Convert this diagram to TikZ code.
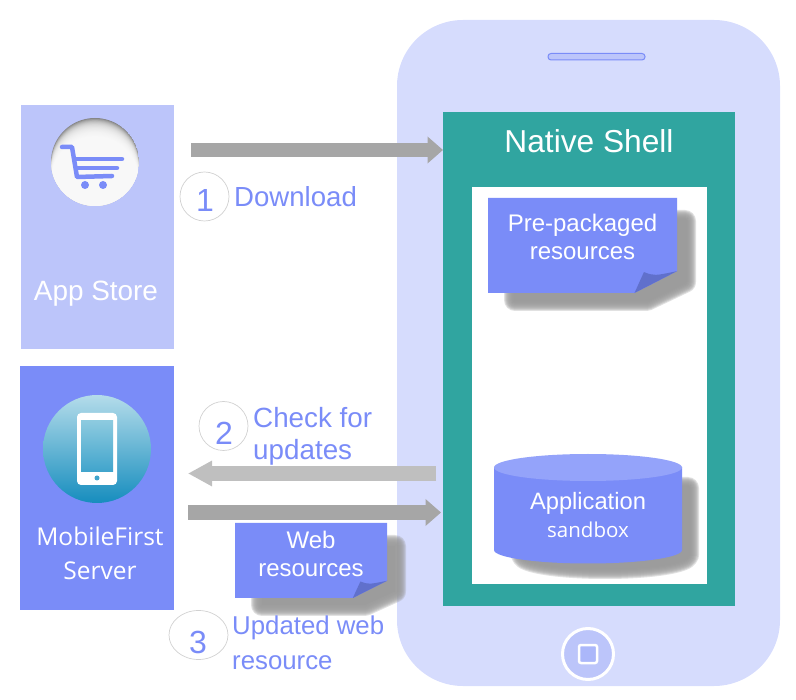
\documentclass[tikz,border=0pt]{standalone}
\usepackage{fontspec}
\setmainfont{Liberation Sans}
\newfontfamily\segoe{Open Sans}
\usetikzlibrary{arrows.meta}

\definecolor{phoneblue}{HTML}{D6DCFD}
\definecolor{paleblue}{HTML}{BCC5FA}
\definecolor{midblue}{HTML}{7A8CF8}
\definecolor{topblue}{HTML}{94A3FA}
\definecolor{foldblue}{HTML}{6070CC}
\definecolor{shellteal}{HTML}{30A5A0}
\definecolor{shadowgray}{HTML}{9C9C9C}
\definecolor{globetop}{HTML}{B4DCEA}
\definecolor{globebottom}{HTML}{168DBE}
\definecolor{screentop}{HTML}{8CCADF}
\definecolor{screenbottom}{HTML}{40A4CC}

\tikzset{
  panel/.style={anchor=north west,inner sep=0pt,outer sep=0pt},
  whitetext/.style={text=white,align=center,inner sep=0pt},
  bluetext/.style={text=midblue,align=left,anchor=west,inner sep=0pt},
  stepcircle/.style={draw=black!18,line width=0.7pt},
  stepnum/.style={text=midblue,inner sep=0pt,font=\fontsize{32}{32}\selectfont},
  blockarrow/.style={line width=14.5pt,-{Triangle[length=15.5pt,width=26pt]}},
  softedge/.style={draw=shadowgray,opacity=0.3,line join=round}
}

% grey blurred shape under the notes and the drum
\newcommand{\softshadow}[1]{
  \foreach \w in {22,20,...,2} {
    \draw[softedge,line width=\w pt] #1;
  }
  \fill[shadowgray] #1;
}

\newcommand{\stickynote}[6]{
  \begin{scope}[shift={(#1+27,#2+23)},xscale=#3-19,yscale=#4-16]
    \softshadow{(0,0) -- (1,0) -- (1,0.77) -- (0.775,1) -- (0,1) -- cycle}
  \end{scope}
  \begin{scope}[shift={(#1,#2)},xscale=#3,yscale=#4]
    \fill[midblue] (0,0) -- (1,0) -- (1,0.77) -- (0.775,1) -- (0,1) -- cycle;
    \fill[foldblue] (0.775,1) -- (0.825,0.78) .. controls (0.88,0.82) .. (1,0.77) -- cycle;
    \node[whitetext,font=\fontsize{24}{28}\selectfont] (#5) at (0.5,0.41) {#6};
  \end{scope}
}

\begin{document}
\begin{tikzpicture}[x=1pt,y=-1pt]
  \useasboundingbox (0,0) rectangle (796,700);

  % phone body
  \fill[phoneblue,rounded corners=66pt] (397,20) rectangle (780,686);
  \fill[paleblue,draw=midblue,line width=1pt,rounded corners=3pt] (548,53.5) rectangle (645,60);
  \node[circle,draw=white,line width=3pt,fill=paleblue,minimum size=51pt,inner sep=0pt] (homebutton) at (588,654) {};
  \node[draw=white,line width=2.5pt,fill=paleblue!75!midblue,minimum size=18pt,inner sep=0pt,rounded corners=2pt] (homesquare) at (588,654) {};

  % shell
  \node[panel,fill=shellteal,minimum width=292pt,minimum height=494pt] (shell) at (443,112) {};
  \node[panel,fill=white,minimum width=235pt,minimum height=397pt] (inner) at (472,187) {};
  \node[text=white,inner sep=0pt,font=\fontsize{31.7}{32}\selectfont] (shelltitle) at (589,141) {Native Shell};

  \stickynote{488}{198}{189}{95}{prenote}{Pre-packaged\\resources}

  % drum
  \softshadow{(522,488) -- (688,488) -- (688,555) arc [start angle=0,end angle=180,x radius=83,y radius=13] -- cycle}
  \fill[midblue] (494,467) -- (494,550) arc [start angle=180,end angle=0,x radius=94,y radius=13.5] -- (682,467) -- cycle;
  \fill[topblue] (588,467.5) ellipse [x radius=94,y radius=13.5];
  \node[whitetext,font=\fontsize{23.7}{24}\selectfont] (apptext) at (588,503) {Application};
  \node[whitetext,font=\segoe\fontsize{20.5}{21}\selectfont] (sandtext) at (588,530) {sandbox};

  % app store
  \node[panel,fill=paleblue,minimum width=153pt,minimum height=244pt] (store) at (21,105) {};
  \node[whitetext,font=\fontsize{27.9}{28}\selectfont] (storetext) at (96,294) {App Store};
  \begin{scope}
    \clip (95,162) circle [radius=44];
    \fill[black!50] (95,162) circle [radius=44];
    \foreach \k in {0,...,30} {
      \fill[white,opacity=0.14] (95,162.5+\k*0.8) circle [radius=44];
    }
  \end{scope}
  \draw[midblue,line width=4.5pt,line cap=round,line join=round] (62,147) -- (72,147) -- (77,177) -- (112,176);
  \draw[midblue,line width=4.5pt,line cap=round] (75,159) -- (122,159);
  \draw[midblue,line width=4.5pt,line cap=round] (77,168) -- (117,168);
  \foreach \x in {85,103} {
    \fill[midblue] (\x,185) circle [radius=4];
  }

  % server
  \node[panel,fill=midblue,minimum width=154pt,minimum height=244pt] (server) at (20,366) {};
  \shade[top color=globetop,bottom color=globebottom] (97,449) circle [radius=54];
  \fill[white,rounded corners=4pt] (77,413) rectangle (117,485);
  \shade[top color=screentop,bottom color=screenbottom] (81,421) rectangle (113,472);
  \fill[screenbottom] (97,478) circle [radius=2.5];
  \node[whitetext,font=\segoe\fontsize{24.5}{34}\selectfont] (servertext) at (100,553) {MobileFirst\\Server};

  % arrows
  \coordinate (dlstart) at (191,150);
  \coordinate (chkstart) at (436,473.5);
  \coordinate (chkend) at (188,473.5);
  \coordinate (webstart) at (188,512.5);
  \coordinate (webend) at (441,512.5);
  \draw[blockarrow,black!35] (dlstart) -- (dlstart -| shell.west);
  \draw[blockarrow,black!25,-{Triangle[length=24pt,width=24pt]}] (chkstart) -- (chkend);
  \draw[blockarrow,black!35] (webstart) -- (webend);

  \stickynote{235}{523}{152}{75}{webnote}{Web\\resources}

  % steps
  \draw[stepcircle] (204.5,196.5) circle [radius=24.5];
  \node[stepnum] (one) at (205,200) {1};
  \node[bluetext,font=\fontsize{27.6}{28}\selectfont] (dltext) at (234,197) {Download};
  \draw[stepcircle] (223.5,426) circle [radius=24.5];
  \node[stepnum] (two) at (224,433) {2};
  \node[bluetext,font=\fontsize{27.8}{32}\selectfont] (chktext) at (253,436) {Check for\\updates};
  \draw[stepcircle] (198.5,635) ellipse [x radius=29.5,y radius=24.5];
  \node[stepnum] (three) at (198,642) {3};
  \node[bluetext,font=\fontsize{25.8}{34.5}\selectfont] (updtext) at (232,643) {Updated web\\resource};
\end{tikzpicture}
\end{document}
